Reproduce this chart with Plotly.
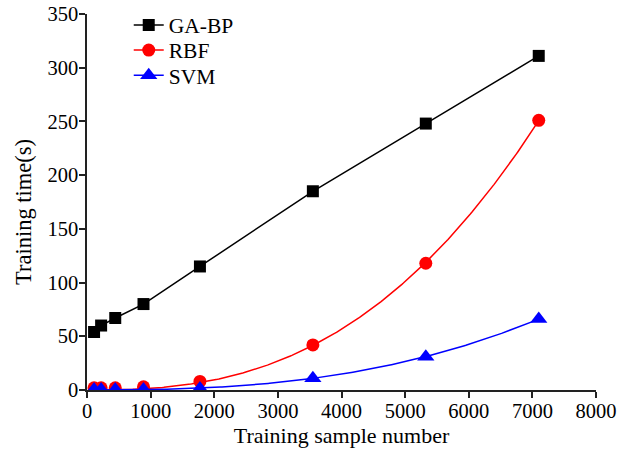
import numpy as np
import plotly.graph_objects as go

samples = [111, 222, 444, 888, 1775, 3550, 5325, 7100]
ga_bp = [54, 60, 67, 80, 115, 185, 248, 311]
rbf = [2, 2, 2, 3, 8, 42, 118, 251]
svm = [0.5, 0.5, 0.5, 0.5, 1.5, 11, 31, 66]

x_ticks = [0, 1000, 2000, 3000, 4000, 5000, 6000, 7000, 8000]
y_ticks = [0, 50, 100, 150, 200, 250, 300, 350]

FONT = "Liberation Serif, Times New Roman, serif"


def power_fit(x, y):
    """Least-squares fit of y = a * x**b (allometric), grid search over b."""
    x = np.asarray(x, dtype=float) / 1000.0
    y = np.asarray(y, dtype=float)
    best = None
    for b in np.linspace(1.0, 4.0, 3001):
        xb = x ** b
        a = np.dot(y, xb) / np.dot(xb, xb)
        err = np.sum((y - a * xb) ** 2)
        if best is None or err < best[0]:
            best = (err, a, b)
    return best[1], best[2]


xf = np.linspace(samples[0], samples[-1], 300)
a_r, b_r = power_fit(samples, rbf)
a_s, b_s = power_fit(samples, svm)
rbf_fit = a_r * (xf / 1000.0) ** b_r
svm_fit = a_s * (xf / 1000.0) ** b_s

fig = go.Figure()
fig.add_trace(go.Scatter(x=samples, y=ga_bp, mode="lines+markers", name="GA-BP",
                         legend="legend",
                         line=dict(color="black", width=1.5),
                         marker=dict(symbol="square", size=12, color="black")))
# RBF
fig.add_trace(go.Scatter(x=xf, y=rbf_fit, mode="lines", showlegend=False,
                         line=dict(color="#ff0000", width=1.5), hoverinfo="skip"))
fig.add_trace(go.Scatter(x=samples, y=rbf, mode="markers", showlegend=False,
                         marker=dict(symbol="circle", size=13, color="#ff0000")))
fig.add_trace(go.Scatter(x=[None], y=[None], mode="lines+markers", name="RBF",
                         legend="legend2",
                         line=dict(color="#ff0000", width=1.5),
                         marker=dict(symbol="circle", size=13, color="#ff0000")))
# SVM
fig.add_trace(go.Scatter(x=xf, y=svm_fit, mode="lines", showlegend=False,
                         line=dict(color="#0000ff", width=1.5), hoverinfo="skip"))
fig.add_trace(go.Scatter(x=samples, y=svm, mode="markers", showlegend=False,
                         marker=dict(symbol="triangle-up", size=15, color="#0000ff")))
fig.add_trace(go.Scatter(x=[None], y=[None], mode="lines+markers", name="SVM",
                         legend="legend3",
                         line=dict(color="#0000ff", width=1.5),
                         marker=dict(symbol="triangle-up", size=15, color="#0000ff")))

axis_common = dict(showgrid=False, zeroline=False, showline=True, linecolor="#222222",
                   linewidth=1.5, ticks="outside", ticklen=6, tickwidth=1.5,
                   tickcolor="#222222", automargin=False, ticklabeloverflow="allow",
                   tickfont=dict(family=FONT, size=20.5, color="black"))

fig.update_xaxes(range=[0, 8000], tickvals=x_ticks, ticktext=[str(v) for v in x_ticks],
                 ticklabelstandoff=-4,
                 title=dict(text="Training sample number",
                            font=dict(family=FONT, size=22, color="black"), standoff=6),
                 **axis_common)
fig.update_yaxes(range=[0, 350], tickvals=y_ticks, ticktext=[str(v) for v in y_ticks],
                 ticklabelstandoff=-3,
                 **axis_common)

# y-axis title placed as rotated text where the reference shows it
fig.add_annotation(text="Training time(s)", textangle=-90, xref="paper", yref="paper",
                   x=-0.126, y=0.473, xanchor="center", yanchor="middle", showarrow=False,
                   font=dict(family=FONT, size=22.5, color="black"))

legend_common = dict(x=0.082, xanchor="left", yanchor="middle", bgcolor="rgba(0,0,0,0)",
                     font=dict(family=FONT, size=21.5, color="black"), itemsizing="trace")

fig.update_layout(
    width=619, height=455,
    margin=dict(l=87, r=23, t=14, b=65, autoexpand=False),
    plot_bgcolor="white", paper_bgcolor="white",
    font=dict(family=FONT, size=21, color="black"),
    legend=dict(y=0.971, **legend_common),
    legend2=dict(y=0.904, **legend_common),
    legend3=dict(y=0.837, **legend_common),
)

# remove the browser's default 8px body margin so the figure sits at the page origin
fig.write_html("out.html", config={"displayModeBar": False},
               post_script="document.body.style.margin='0';")
